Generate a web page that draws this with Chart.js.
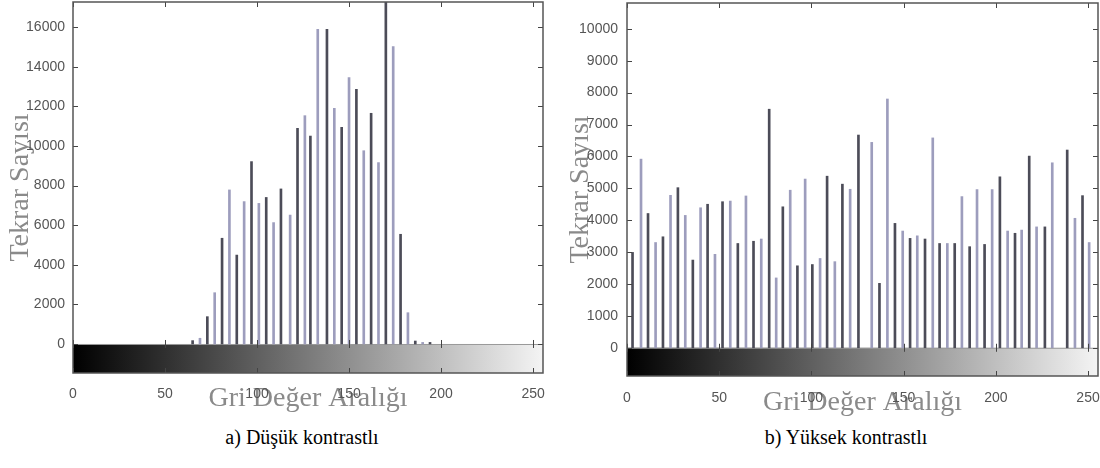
<!DOCTYPE html>
<html>
<head>
<meta charset="utf-8">
<script src="https://cdn.jsdelivr.net/npm/chart.js@4.4.1/dist/chart.umd.min.js"></script>
<style>
  body { margin: 0; background: #fff; width: 1100px; height: 468px; position: relative; overflow: hidden; }
  .box { position: absolute; top: 0; width: 550px; height: 420px; }
  .cap { position: absolute; top: 426px; font: 20px "Liberation Serif", serif; color: #000;
         transform: translateX(-50%); white-space: nowrap; }
</style>
</head>
<body>
<div class="box" style="left:0"><canvas id="histA"></canvas></div>
<div class="box" style="left:550px"><canvas id="histB"></canvas></div>
<div class="cap" style="left:302px">a) Düşük kontrastlı</div>
<div class="cap" style="left:846px">b) Yüksek kontrastlı</div>
<script>
// gray levels and counts
var lowLevels = [65, 69, 73, 77, 81, 85, 89, 93, 97, 101, 105, 109, 113, 118, 122, 126, 129,
  133, 138, 142, 146, 150, 154, 158, 162, 166, 170, 174, 178, 182, 186, 190, 194];
var lowCounts = [170, 290, 1380, 2590, 5340, 7780, 4490, 7190, 9210, 7100, 7400, 6130, 7830,
  6510, 10890, 11530, 10500, 15890, 15890, 11900, 10940, 13450, 12860, 9760, 11650, 9160,
  18000, 15020, 5540, 1580, 150, 80, 80];

var highLevels = [3, 7.6, 11.4, 15.5, 19.5, 23.6, 27.6, 31.6, 35.7, 39.9, 43.7, 47.7, 51.8, 56,
  60.1, 64.5, 68.6, 72.8, 77.1, 80.9, 84.5, 88.5, 92.4, 96.6, 100.5, 104.7, 108.5, 112.7, 116.8,
  121, 125.5, 132.7, 136.9, 141.2, 145.3, 149.5, 153.5, 157.4, 161.6, 165.8, 169.5, 173.7, 177.7,
  181.6, 185.8, 189.8, 193.9, 198, 202.2, 206.4, 210.4, 214, 218.1, 222.1, 226.6, 230.6, 238.7,
  242.9, 247, 250.6];
var highCounts = [2990, 5915, 4210, 3300, 3480, 4780, 5020, 4150, 2750, 4390, 4500, 2930, 4580,
  4600, 3270, 4760, 3340, 3410, 7480, 2190, 4420, 4940, 2570, 5290, 2610, 2800, 5380, 2700, 5130,
  4970, 6670, 6440, 2020, 7800, 3900, 3660, 3430, 3510, 3410, 6580, 3270, 3270, 3270, 4740, 3170,
  4960, 3240, 4960, 5360, 3660, 3590, 3690, 6010, 3790, 3790, 5800, 6200, 4060, 4770, 3300];

var xTickValues = [0, 50, 100, 150, 200, 250];
var lowTickValues = [0, 2000, 4000, 6000, 8000, 10000, 12000, 14000, 16000];
var highTickValues = [0, 1000, 2000, 3000, 4000, 5000, 6000, 7000, 8000, 9000, 10000];

var yTitle = 'Tekrar Sayısı';
var xTitle = 'Gri Değer Aralığı';

// gradient strip under zero, box frame and inward ticks
var frame = {
  id: 'frame',
  beforeDatasetsDraw: function(chart) {
    var ctx = chart.ctx, a = chart.chartArea, x = chart.scales.x, y = chart.scales.y;
    var x0 = x.getPixelForValue(0), y0 = y.getPixelForValue(0);
    var g = ctx.createLinearGradient(x0, 0, a.right, 0);
    g.addColorStop(0, '#000');
    g.addColorStop(1, '#f4f4f4');
    ctx.save();
    ctx.fillStyle = g;
    ctx.fillRect(x0, y0, a.right - x0, a.bottom - y0);
    ctx.strokeStyle = '#999';
    ctx.lineWidth = 1;
    ctx.beginPath();
    ctx.moveTo(x0, y0 + 0.5); ctx.lineTo(a.right, y0 + 0.5);
    ctx.stroke();
    ctx.restore();
  },
  afterDraw: function(chart) {
    var ctx = chart.ctx, a = chart.chartArea, x = chart.scales.x, y = chart.scales.y;
    var y0 = y.getPixelForValue(0);
    ctx.save();
    ctx.strokeStyle = '#444';
    ctx.lineWidth = 1;
    ctx.beginPath();
    x.ticks.forEach(function(t) {
      var px = Math.round(x.getPixelForValue(t.value)) + 0.5;
      ctx.moveTo(px, a.top); ctx.lineTo(px, a.top + 5);
      ctx.moveTo(px, a.bottom); ctx.lineTo(px, a.bottom - 5);
      ctx.moveTo(px, y0 - 4); ctx.lineTo(px, y0 + 4);
    });
    y.ticks.forEach(function(t) {
      var py = Math.round(y.getPixelForValue(t.value)) + 0.5;
      ctx.moveTo(a.left, py); ctx.lineTo(a.left + 5, py);
      ctx.moveTo(a.right, py); ctx.lineTo(a.right - 5, py);
    });
    ctx.stroke();
    ctx.strokeStyle = '#555';
    ctx.lineWidth = 1.5;
    ctx.strokeRect(a.left, a.top, a.right - a.left, a.bottom - a.top);
    ctx.restore();
  }
};

function plain(v) { return String(v); }

function histogram(id, levels, counts, yMin, yMax, yTicks, lay) {
  var points = levels.map(function(v, i) { return { x: v, y: counts[i] }; });
  return new Chart(document.getElementById(id), {
    type: 'bar',
    data: {
      datasets: [{
        data: points,
        barThickness: 2,
        backgroundColor: function(c) { return c.dataIndex % 2 ? '#9d9dbd' : '#4c4c58'; },
        borderWidth: 0
      }]
    },
    options: {
      responsive: true,
      maintainAspectRatio: false,
      animation: false,
      layout: { padding: { top: lay.top, right: lay.right, left: 0, bottom: 0 } },
      plugins: { legend: { display: false }, tooltip: { enabled: false } },
      scales: {
        x: {
          type: 'linear', min: 0, max: 255.4, offset: false,
          grid: { display: false }, border: { display: false },
          afterBuildTicks: function(s) { s.ticks = xTickValues.map(function(v) { return { value: v }; }); },
          afterFit: function(s) { s.height = lay.xHeight; s.paddingLeft = 0; s.paddingRight = 0; },
          ticks: { color: '#555', padding: lay.xTickPad, maxRotation: 0, callback: plain,
                   font: { family: 'Liberation Sans', size: 14 } },
          title: { display: true, text: xTitle, color: '#8a8a8a', padding: { bottom: lay.xTitlePad },
                   font: { family: 'Liberation Serif', size: 28 } }
        },
        y: {
          min: yMin, max: yMax,
          grid: { display: false }, border: { display: false },
          afterBuildTicks: function(s) { s.ticks = yTicks.map(function(v) { return { value: v }; }); },
          afterFit: function(s) { s.width = lay.yWidth; s.paddingTop = 0; s.paddingBottom = 0; },
          ticks: { color: '#555', padding: lay.yTickPad, callback: plain,
                   font: { family: 'Liberation Sans', size: 14 } },
          title: { display: true, text: yTitle, color: '#8a8a8a', padding: { top: lay.yTitlePad },
                   font: { family: 'Liberation Serif', size: 28 } }
        }
      }
    },
    plugins: [frame]
  });
}

histogram('histA', lowLevels, lowCounts, -1465, 17270, lowTickValues,
  { top: 2, right: 7, yWidth: 73, xHeight: 47, xTickPad: 5, yTickPad: 0, xTitlePad: 5, yTitlePad: 4 });
histogram('histB', highLevels, highCounts, -885, 10810, highTickValues,
  { top: 3, right: 2, yWidth: 77, xHeight: 44, xTickPad: 6, yTickPad: 1, xTitlePad: 1, yTitlePad: 14 });
</script>
</body>
</html>
